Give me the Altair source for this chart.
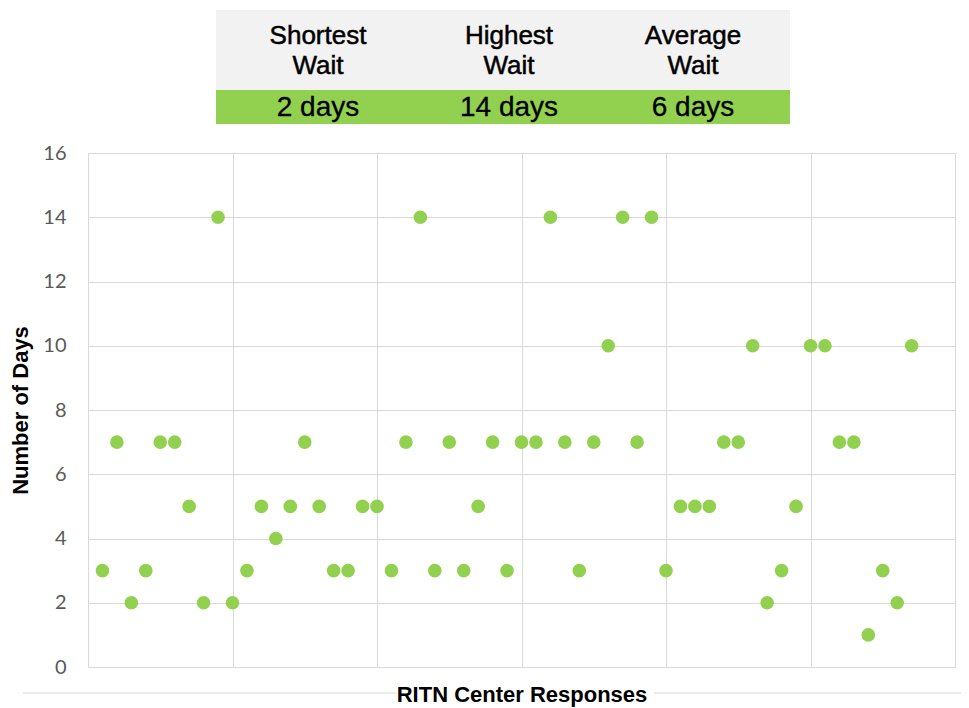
import altair as alt
import pandas as pd

# ---- data ----
days = [3, 7, 2, 3, 7, 7, 5, 2, 14, 2,
        3, 5, 4, 5, 7, 5, 3, 3, 5, 5,
        3, 7, 14, 3, 7, 3, 5, 7, 3, 7,
        7, 14, 7, 3, 7, 10, 14, 7, 14, 3,
        5, 5, 5, 7, 7, 10, 2, 3, 5, 10,
        10, 7, 7, 1, 3, 2, 10]
responses = list(range(1, len(days) + 1))

headers = ["Shortest\nWait", "Highest\nWait", "Average\nWait"]
summary = ["2 days", "14 days", "6 days"]

x_ticks = [0, 10, 20, 30, 40, 50, 60]
y_ticks = [0, 2, 4, 6, 8, 10, 12, 14, 16]

GREEN = "#92d050"
GRAY_BG = "#f2f2f2"
GRID = "#d9d9d9"

df = pd.DataFrame({"response": responses, "days": days})
one = pd.DataFrame({"k": [0]})

W, H = 867, 514

points = alt.Chart(df).mark_circle(size=185, opacity=1, color=GREEN).encode(
    x=alt.X("response:Q",
            scale=alt.Scale(domain=[0, 60], nice=False),
            axis=alt.Axis(values=x_ticks, labels=False, ticks=False, domain=False,
                          grid=True, gridColor=GRID, gridWidth=1,
                          title="RITN Center Responses", titleFont="Liberation Sans",
                          titleFontSize=22, titleFontWeight="bold", titleColor="#000000",
                          titlePadding=17)),
    y=alt.Y("days:Q",
            scale=alt.Scale(domain=[0, 16], nice=False),
            axis=alt.Axis(values=y_ticks, ticks=False, domain=False,
                          grid=True, gridColor=GRID, gridWidth=1,
                          labelFont="Lato", labelFontSize=20, labelColor="#595959",
                          labelPadding=22,
                          title="Number of Days", titleFont="Liberation Sans",
                          titleFontSize=22, titleFontWeight="bold", titleColor="#000000",
                          titlePadding=10)),
)

# summary table above the plot
gray_rect = alt.Chart(one).mark_rect(color=GRAY_BG).encode(
    x=alt.value(128), x2=alt.value(702), y=alt.value(-143), y2=alt.value(-63))
green_rect = alt.Chart(one).mark_rect(color=GREEN).encode(
    x=alt.value(128), x2=alt.value(702), y=alt.value(-63), y2=alt.value(-29))

col_x = [230, 421, 605]
table_layers = []
for cx, h, v in zip(col_x, headers, summary):
    table_layers.append(
        alt.Chart(one).mark_text(text=h, lineBreak="\n", font="Liberation Sans",
                                 fontSize=26, color="#000000", stroke="#000000",
                                 strokeWidth=0.5, align="center",
                                 baseline="middle", lineHeight=30)
        .encode(x=alt.value(cx), y=alt.value(-117)))
    table_layers.append(
        alt.Chart(one).mark_text(text=v, font="Liberation Sans", fontSize=28,
                                 color="#000000", stroke="#000000", strokeWidth=0.3,
                                 align="center", baseline="middle")
        .encode(x=alt.value(cx), y=alt.value(-45)))

# light separator line under the plot (broken by the x title)
rule1 = alt.Chart(one).mark_rule(color=GRID, strokeWidth=1).encode(
    x=alt.value(-65), x2=alt.value(309), y=alt.value(540))
rule2 = alt.Chart(one).mark_rule(color=GRID, strokeWidth=1).encode(
    x=alt.value(566), x2=alt.value(881), y=alt.value(540))

chart = alt.layer(gray_rect, green_rect, *table_layers, rule1, rule2, points).properties(
    width=W, height=H,
    autosize=alt.AutoSizeParams(type="none"),
    padding={"left": 80, "top": 145, "right": 6, "bottom": 45},
    background="white",
).configure_view(stroke=None)

chart.save("out.html", embed_options={"renderer": "svg", "actions": False})
